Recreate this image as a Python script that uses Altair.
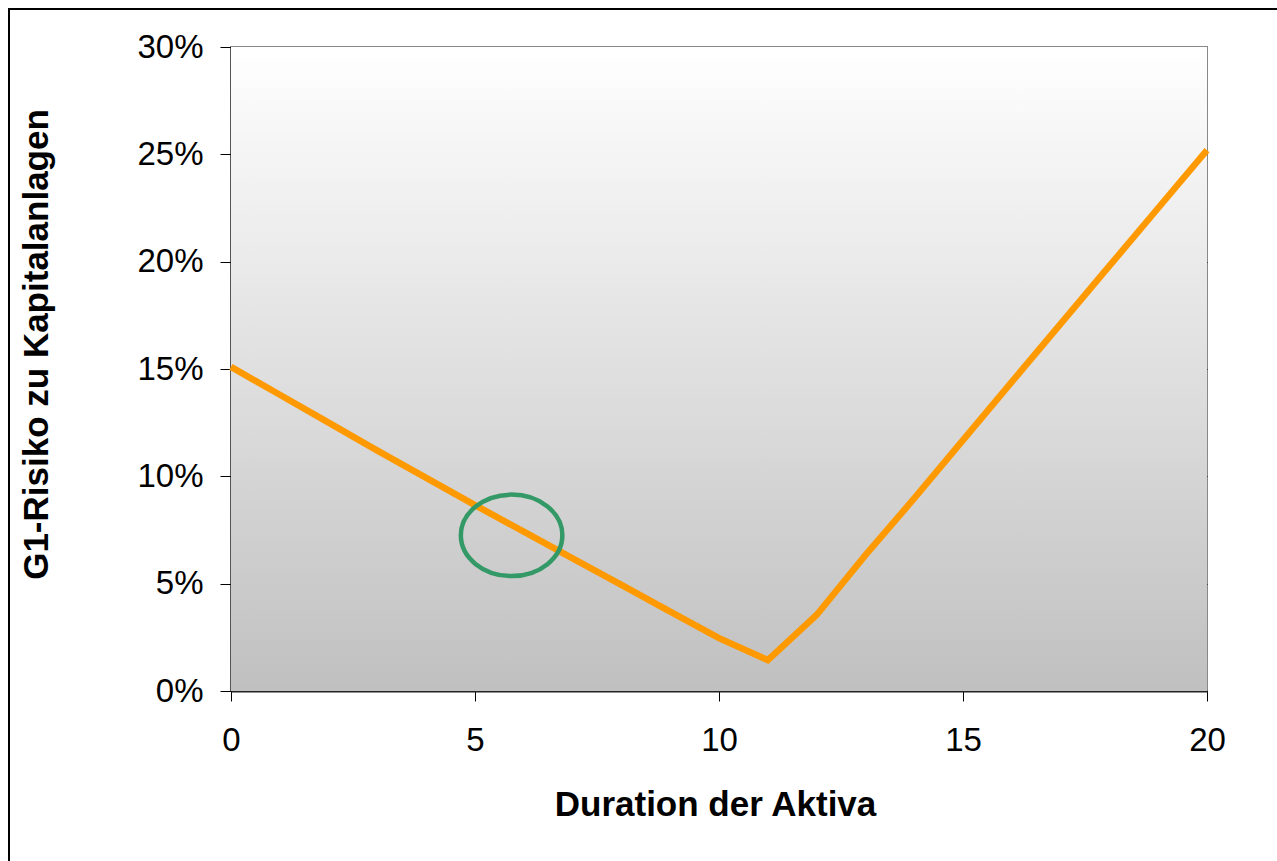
import altair as alt
import pandas as pd

# Asset duration (years) and the resulting G1 risk relative to invested capital
duration = [0, 1, 2, 3, 4, 5, 6, 7, 8, 9, 10, 11, 12, 13, 14, 15, 16, 17, 18, 19, 20]
risk = [0.151, 0.138, 0.125, 0.112, 0.0993, 0.0866, 0.0742, 0.0618, 0.0494, 0.037, 0.0246,
        0.0144, 0.0354, 0.0633, 0.0897, 0.1169, 0.144, 0.171, 0.198, 0.225, 0.252]

# Highlighted region (current duration)
mark_x = [5.75]
mark_y = [0.0725]

x_ticks = [0, 5, 10, 15, 20]
y_ticks = [0.0, 0.05, 0.10, 0.15, 0.20, 0.25, 0.30]

W, H = 976, 644
FONT = "Liberation Sans"

df = pd.DataFrame({"duration": duration, "risk": risk})
df_mark = pd.DataFrame({"duration": mark_x, "risk": mark_y})

x_scale = alt.Scale(domain=[0, 20], nice=False, zero=False)
y_scale = alt.Scale(domain=[0, 0.30], nice=False)

# Plot-area background: vertical gradient from white to gray
background = alt.Chart(pd.DataFrame({"a": [0]})).mark_rect(
    fill=alt.Gradient(
        gradient="linear",
        stops=[alt.GradientStop(color="#ffffff", offset=0),
               alt.GradientStop(color="#c0c0c0", offset=1)],
        x1=0, x2=0, y1=0, y2=1,
    )
).encode(x=alt.value(0), x2=alt.value(W), y=alt.value(0), y2=alt.value(H))

# Outer frame around the whole figure
frame = alt.Chart(pd.DataFrame({"a": [0]})).mark_rect(
    fill=None, stroke="black", strokeWidth=2, clip=False
).encode(x=alt.value(-222), x2=alt.value(W + 300), y=alt.value(-38), y2=alt.value(H + 400))

line = alt.Chart(df).mark_line(color="#FF9900", strokeWidth=6.5, strokeJoin="miter").encode(
    x=alt.X(
        "duration:Q",
        scale=x_scale,
        axis=alt.Axis(
            values=x_ticks,
            title="Duration der Aktiva",
            grid=False,
            tickSize=10,
            tickColor="black",
            labelPadding=23,
            labelFontSize=33,
            labelFont=FONT,
            labelColor="black",
            labelFlush=False,
            domainColor="#222222",
            domainWidth=2,
            titleFont=FONT,
            titleFontSize=35,
            titleFontWeight="bold",
            titleColor="black",
            titleBaseline="alphabetic",
            titleY=124,
            titleX=484,
        ),
    ),
    y=alt.Y(
        "risk:Q",
        scale=y_scale,
        axis=alt.Axis(
            values=y_ticks,
            format=".0%",
            title="G1-Risiko zu Kapitalanlagen",
            grid=True,
            gridColor={"condition": {"test": "datum.value >= 0.299", "value": "#888888"},
                       "value": "black"},
            gridWidth=1,
            tickSize=11,
            tickColor="black",
            labelPadding=17,
            labelFontSize=33,
            labelFont=FONT,
            labelColor="black",
            labelFlush=False,
            domainColor="#222222",
            domainWidth=2,
            titleFont=FONT,
            titleFontSize=35,
            titleFontWeight="bold",
            titleColor="black",
            titleAngle=-90,
            titleBaseline="alphabetic",
            titleAlign="center",
            titleX=-184,
            titleY=297,
        ),
    ),
)

# Ellipse outline drawn as a custom symbol path (cubic Bezier approximation)
r = 0.803
k = 0.5523
ellipse_path = (
    f"M -1 0 C -1 {-k*r:.4f} {-k:.4f} {-r:.4f} 0 {-r:.4f} "
    f"C {k:.4f} {-r:.4f} 1 {-k*r:.4f} 1 0 "
    f"C 1 {k*r:.4f} {k:.4f} {r:.4f} 0 {r:.4f} "
    f"C {-k:.4f} {r:.4f} -1 {k*r:.4f} -1 0 Z"
)
ellipse = alt.Chart(df_mark).mark_point(
    shape=ellipse_path, filled=False, stroke="#339966", strokeWidth=4.5, size=101.5 ** 2, opacity=1
).encode(
    x=alt.X("duration:Q", scale=x_scale),
    y=alt.Y("risk:Q", scale=y_scale),
)

chart = alt.layer(background, line, ellipse, frame).properties(
    width=W,
    height=H,
    autosize=alt.AutoSizeParams(type="none"),
    padding={"left": 231, "top": 47, "right": 70, "bottom": 170},
    background="white",
).configure_view(stroke="#888888", strokeWidth=2)

chart.save("out.html", embed_options={"renderer": "svg", "actions": False})
